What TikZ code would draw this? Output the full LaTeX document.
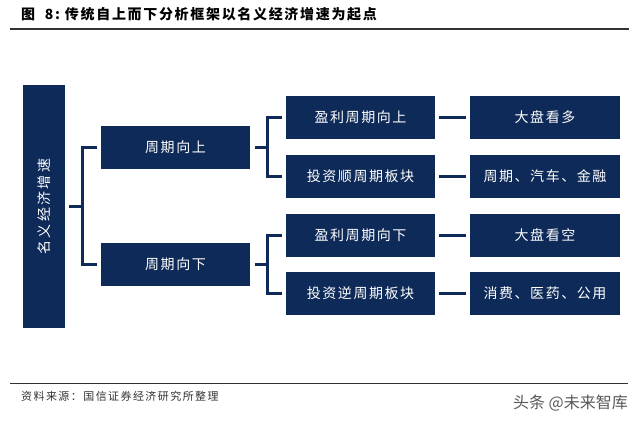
\documentclass[tikz,border=0pt]{standalone}
\usepackage{fontspec}
\newfontfamily\cjk{Noto Sans CJK SC}
\newfontfamily\cjkt{Noto Sans CJK SC}[LetterSpace=12]
\newfontfamily\cjkb{Noto Sans CJK SC}[LetterSpace=11]
\newfontfamily\cjks{Noto Sans CJK SC}[LetterSpace=13]
\usetikzlibrary{calc}
\definecolor{navy}{RGB}{14,42,88}
\definecolor{rulegray}{RGB}{50,50,50}
\begin{document}
\begin{tikzpicture}[x=1pt,y=-1pt,
  box/.style={fill=navy,draw=none,inner sep=0pt,text=white,font=\cjkb\fontsize{14}{16}\selectfont},
  wbox/.style={box,minimum width=149pt,minimum height=43pt},
  rbox/.style={box,minimum width=150pt,minimum height=43pt},
  conn/.style={draw=navy,line width=3.2pt,line cap=butt,line join=miter}]
\useasboundingbox (0,0) rectangle (640,424);
\fill[white] (0,0) rectangle (640,424);
% title
\node[anchor=west,inner sep=0pt,font=\cjkt\bfseries\fontsize{14}{16}\selectfont] (title) at (21,14) {图\ \ 8:\ 传统自上而下分析框架以名义经济增速为起点};
\draw[rulegray,line width=1.3pt] (10,29) -- (629,29);
% boxes
\node[box,minimum width=42pt,minimum height=243pt] (L) at (44,206.5) {};
\node[rotate=90,text=white,inner sep=0pt,font=\cjk\fontsize{14}{16}\selectfont] (Lt) at (44,206.5) {名\,义\,经\,济\,增\,速};
\node[wbox] (U1) at (175.5,147.5) {周期向上};
\node[wbox] (D1) at (175.5,264.5) {周期向下};
\node[wbox] (A) at (360.5,117.5) {盈利周期向上};
\node[wbox] (B) at (360.5,176.5) {投资顺周期板块};
\node[wbox] (C) at (360.5,235.5) {盈利周期向下};
\node[wbox] (D) at (360.5,293.5) {投资逆周期板块};
\node[rbox] (RA) at (545,117.5) {大盘看多};
\node[rbox] (RB) at (545,176.5) {周期、汽车、金融};
\node[rbox] (RC) at (545,235.5) {大盘看空};
\node[rbox] (RD) at (545,293.5) {消费、医药、公用};
% brackets
\coordinate (b0) at ($(L.east)+(17,0)$);
\draw[conn] ([xshift=4pt]L.east) -- (b0);
\draw[conn] ([xshift=-4pt]U1.west) -| (b0) |- ([xshift=-4pt]D1.west);
\coordinate (b1) at ($(U1.east)+(17,0)$);
\draw[conn] ([xshift=5pt]U1.east) -- (b1);
\draw[conn] ([xshift=-4pt]A.west) -| (b1) |- ([xshift=-4pt]B.west);
\coordinate (b2) at ($(D1.east)+(17,0)$);
\draw[conn] ([xshift=5pt]D1.east) -- (b2);
\draw[conn] ([xshift=-4pt]C.west) -| (b2) |- ([xshift=-4pt]D.west);
\draw[conn] ([xshift=4pt]A.east) -- ([xshift=-4pt]RA.west);
\draw[conn] ([xshift=4pt]B.east) -- ([xshift=-4pt]RB.west);
\draw[conn] ([xshift=4pt]C.east) -- ([xshift=-4pt]RC.west);
\draw[conn] ([xshift=4pt]D.east) -- ([xshift=-4pt]RD.west);
% footer
\draw[rulegray,line width=1pt] (10,383) -- (628,383);
\node[anchor=west,inner sep=0pt,text=black!80,font=\cjks\fontsize{11}{13}\selectfont] (src) at (21,396) {资料来源：国信证券经济研究所整理};
\node[anchor=east,inner sep=0pt,text=black!65,font=\cjk\fontsize{16}{18}\selectfont] (wm) at (628,403) {头条 @未来智库};
\end{tikzpicture}
\end{document}
